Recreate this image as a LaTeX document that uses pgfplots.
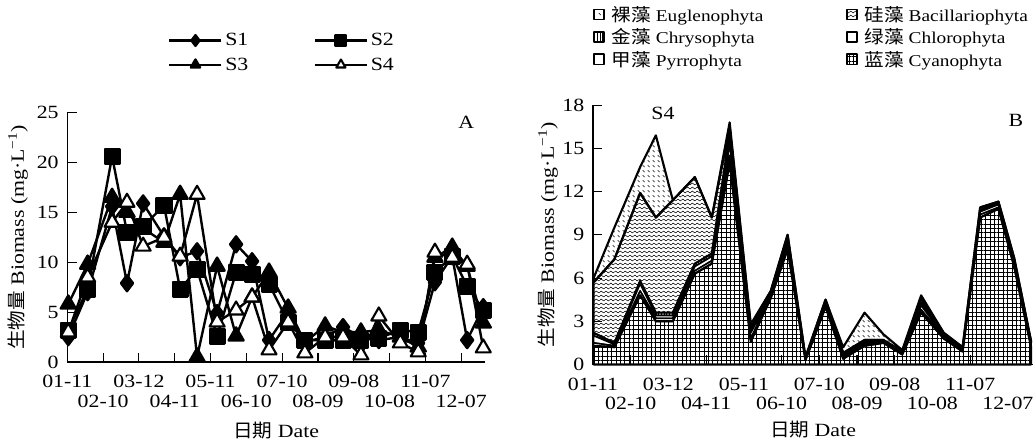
\documentclass[border=0pt]{standalone}
\usepackage{fontspec}
\setmainfont{Liberation Serif}[FakeStretch=1.17]
\newfontfamily\cjk{Noto Sans CJK SC}[FakeStretch=1.05]
\newfontfamily\cjkL{Noto Sans CJK SC}[FakeStretch=1.1,Scale=1.08]
\usepackage{pgfplots}
\usepackage{pgfplotstable}
\pgfplotsset{compat=1.18}
\usetikzlibrary{patterns,patterns.meta}

\tikzdeclarepattern{
  name=zigzag, type=uncolored,
  bounding box={(0pt,-1.5pt) and (3.6pt,1.5pt)},
  tile size={(3.6pt,3pt)},
  code={\draw[line width=0.4pt] (0pt,0pt) -- (0.9pt,0.7pt) -- (2.7pt,-0.7pt) -- (3.6pt,0pt);}
}
\tikzdeclarepattern{
  name=dashdiag, type=uncolored,
  bounding box={(0pt,0pt) and (4pt,4pt)},
  tile size={(4pt,4pt)},
  code={\draw[line width=0.4pt] (0.6pt,3.2pt) -- (2.2pt,1.6pt);}
}

\pgfplotstableread{
day   s1   s2   s3   s4
0.8   2.5  3.2  5.8  3.0
17    7.0  7.3  9.8  8.5
37.5  15.6 20.6 16.5 14.0
50    7.9  13.0 15.0 16.0
63.5  15.9 13.6 13.4 11.6
81    12.6 15.7 12.0 12.5
94.5  10.5 7.3  16.8 10.6
108.7 11.1 9.3  0.5  16.8
125.5 4.9  2.6  9.6  4.0
141.4 11.8 9.0  2.6  5.2
154.8 10.1 8.8  6.5  6.5
169   2.2  7.8  9.0  1.2
185   5.0  4.0  5.4  4.0
199   2.0  2.2  2.0  0.9
216   2.5  2.2  3.6  2.5
231   3.5  2.2  3.0  2.5
246   2.5  2.2  3.0  0.7
261   2.2  2.4  3.2  4.6
279   2.5  3.2  2.5  1.9
294   1.9  3.0  1.5  1.0
308   8.0  9.0  10.5 11.0
322.5 10.6 10.6 11.5 10.5
335   2.2  7.6  9.6  9.8
348.5 5.5  5.2  3.9  1.4
}\tabA

\pgfplotstableread{
day   cy   py   chl  chr  bac  eug
0.5   1.3  0.2  0.5  0.2  3.5  0.3
17    1.2  0.1  0.1  0.1  5.8  2.2
37.5  4.8  0.3  0.5  0.2  6.1  1.8
50    3.0  0.2  0.2  0.2  6.6  5.7
63.5  3.0  0.2  0.2  0.2  7.8  0.0
81    6.3  0.2  0.3  0.2  6.0  0.0
94.5  7.0  0.2  0.3  0.2  2.5  0.0
108.7 14.0 0.5  0.8  0.7  0.5  0.3
125.5 1.6  0.2  0.4  0.2  0.3  0.1
141.4 4.6  0.1  0.1  0.1  0.2  0.0
154.8 8.0  0.2  0.2  0.2  0.4  0.0
169   0.3  0.1  0.05 0.05 0.0  0.0
185   4.0  0.1  0.1  0.1  0.2  0.0
199   0.4  0.1  0.1  0.1  0.1  0.4
216   1.3  0.1  0.1  0.1  0.1  1.9
231   1.5  0.1  0.05 0.05 0.0  0.4
246   0.7  0.1  0.05 0.05 0.0  0.1
261   3.6  0.2  0.3  0.2  0.3  0.2
279   1.8  0.1  0.1  0.1  0.1  0.0
294   0.9  0.1  0.05 0.05 0.1  0.0
308   10.2 0.2  0.2  0.1  0.2  0.0
322.5 10.8 0.1  0.2  0.1  0.1  0.0
335   6.8  0.1  0.2  0.1  0.2  0.0
348.5 1.2  0.1  0.1  0.1  0.1  0.0
}\tabB

\pgfplotsset{
  common/.style={
    scale only axis,
    anchor=south west,
    font=\fontsize{14}{16}\selectfont,
    xmin=0, xmax=350, ymin=0,
    axis lines*=left,
    axis line style={line width=0.8pt},
    tick align=inside,
    major tick length=7pt,
    tick style={black, line width=0.8pt},
    xtick={0,60,...,300},
    xticklabels={01-11,03-12,05-11,07-10,09-08,11-07},
    extra x ticks={30,90,...,330},
    extra x tick labels={02-10,04-11,06-10,08-09,10-08,12-07},
    xticklabel style={yshift=-6.5pt},
    extra x tick style={xticklabel style={yshift=-14.5pt}},
    yticklabel style={xshift=-3pt},
    /pgf/number format/assume math mode=true,
    xlabel={{\cjk 日期} Date},
    ylabel={{\cjk 生物量} Biomass (mg·L\textsuperscript{−1})},
    clip=false,
  }
}

\begin{document}
\begin{tikzpicture}[x=1pt,y=1pt]
\useasboundingbox (0,0) rectangle (777,333);

% ---------- Panel A ----------
\begin{axis}[common,
  at={(50.5pt,61.5pt)}, width=313.3pt, height=187pt,
  ymax=25, ytick={0,5,...,25},
  every axis y label/.style={at={(axis description cs:-0.118,0.5)},rotate=90,anchor=center},
  every axis x label/.style={at={(axis description cs:0.5,-0.273)},anchor=center},
  legend columns=2,
  legend style={at={(axis description cs:0.241,1.33)}, anchor=north west,
    draw=none, fill=none, inner sep=0pt, row sep=3.5pt,
    /tikz/every even column/.append style={column sep=47pt}},
  legend image code/.code={\draw[mark repeat=2,mark phase=2,#1,mark size=4pt,line width=1.8pt] plot coordinates {(0pt,0pt) (19.5pt,0pt) (39pt,0pt)};},
]
\addplot[black, line width=1.8pt, line join=round, mark=diamond*, mark size=6pt, mark options={solid,fill=black}] table[x=day,y=s1]{\tabA};
\addlegendentry{S1}
\addplot[black, line width=1.8pt, line join=round, mark=square*, mark size=5.5pt, mark options={solid,fill=black}] table[x=day,y=s2]{\tabA};
\addlegendentry{S2}
\addplot[black, line width=1.8pt, line join=round, mark=triangle*, mark size=6.5pt, mark options={solid,fill=black}] table[x=day,y=s3]{\tabA};
\addlegendentry{S3}
\addplot[black, line width=1.8pt, line join=round, mark=triangle*, mark size=6.5pt, mark options={solid,fill=white,line width=1.6pt}] table[x=day,y=s4]{\tabA};
\addlegendentry{S4}
\node at (axis description cs:0.955,0.963) {A};
\end{axis}

% ---------- Panel B ----------
\begin{axis}[common,
  at={(444.75pt,59.6pt)}, width=330pt, height=194.6pt,
  ymax=18, ytick={0,3,...,18},
  stack plots=y,
  every axis y label/.style={at={(axis description cs:-0.102,0.5)},rotate=90,anchor=center},
  every axis x label/.style={at={(axis description cs:0.5,-0.252)},anchor=center},
  legend columns=2, reverse legend,
  legend cell align=left,
  legend style={at={(axis description cs:0.0,1.392)}, anchor=north west,
    draw=none, fill=none, inner sep=0pt, row sep=0pt,
    font=\fontsize{12.4}{14}\selectfont,
    /tikz/every odd column/.append style={column sep=3pt},
    /tikz/every even column/.append style={column sep=60pt}},
  legend image code/.code={\draw[#1,line width=1.3pt] (0pt,-3.6pt) rectangle (7.6pt,4pt);},
]
\addplot[draw=black, line width=1.6pt, line join=round, pattern={Hatch[angle=0,distance=3.3pt,line width=0.7pt]}] table[x=day,y=cy]{\tabB} \closedcycle;
\addlegendentry{{\cjkL 蓝藻} Cyanophyta}
\addplot[draw=black, line width=1.2pt, line join=round, fill=white] table[x=day,y=py]{\tabB} \closedcycle;
\addlegendentry{{\cjkL 甲藻} Pyrrophyta}
\addplot[draw=black, line width=1.2pt, line join=round, fill=white] table[x=day,y=chl]{\tabB} \closedcycle;
\addlegendentry{{\cjkL 绿藻} Chlorophyta}
\addplot[draw=black, line width=1.2pt, line join=round, pattern={Lines[angle=90,distance=2pt,line width=0.5pt]}] table[x=day,y=chr]{\tabB} \closedcycle;
\addlegendentry{{\cjkL 金藻} Chrysophyta}
\addplot[draw=black, line width=1.6pt, line join=round, pattern=zigzag] table[x=day,y=bac]{\tabB} \closedcycle;
\addlegendentry{{\cjkL 硅藻} Bacillariophyta}
\addplot[draw=black, line width=1.6pt, line join=round, pattern=dashdiag] table[x=day,y=eug]{\tabB} \closedcycle;
\addlegendentry{{\cjkL 裸藻} Euglenophyta}
\node at (axis description cs:0.159,0.969) {S4};
\node at (axis description cs:0.961,0.942) {B};
\end{axis}
\end{tikzpicture}
\end{document}
